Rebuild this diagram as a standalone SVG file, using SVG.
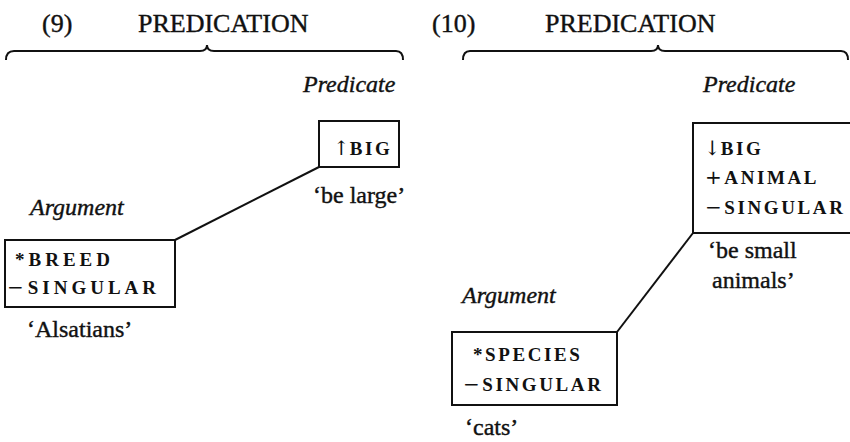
<svg xmlns="http://www.w3.org/2000/svg" width="850" height="442" viewBox="0 0 850 442">
<style>
text{font-family:"Liberation Serif","Times New Roman",serif;fill:#111;stroke:#111;stroke-width:0.4}
.title{font-size:26px}
.role{font-size:24px;font-style:italic}
.gloss{font-size:24px}
.sc{font-size:19px;font-weight:bold;letter-spacing:4px;stroke-width:0}
.sc2{font-size:19px;font-weight:bold;letter-spacing:2.6px;stroke-width:0}
.arr{font-family:"DejaVu Serif","DejaVu Sans",serif;font-size:20px;font-weight:normal;letter-spacing:0;fill:#111}
.sym{font-family:"DejaVu Sans",sans-serif;font-size:20px;font-weight:normal;fill:#111}
.box{fill:none;stroke:#111;stroke-width:2}
.brace{fill:none;stroke:#111;stroke-width:2}
.edge{stroke:#111;stroke-width:2}
</style>
<rect width="850" height="442" fill="#fff"/>
<g id="heading9">
<text class="title" x="42" y="32">(9)</text>
<text class="title" x="138" y="32">PREDICATION</text>
<path class="brace" d="M6,60 Q6,51 14,51 L200,51 Q207,51 207,45 Q207,51 214,51 L396,51 Q403,51 403,60"/>
</g>
<g id="heading10">
<text class="title" x="432" y="32">(10)</text>
<text class="title" x="545" y="32">PREDICATION</text>
<path class="brace" d="M463,60 Q463,51 470,51 L651,51 Q658,51 658,45 Q658,51 665,51 L841,51 Q848,51 848,60"/>
</g>
<g id="connectors">
<line class="edge" x1="175" y1="240" x2="319" y2="167"/>
<line class="edge" x1="617" y1="332" x2="693" y2="233"/>
</g>
<g id="pred9">
<text class="role" x="303" y="92">Predicate</text>
<rect class="box" x="319" y="121" width="80" height="46"/>
<text class="sc2" x="333" y="155"><tspan class="arr">↑</tspan>BIG</text>
<text class="gloss" x="313" y="203">‘be large’</text>
</g>
<g id="arg9">
<text class="role" x="30" y="215">Argument</text>
<rect class="box" x="5" y="240" width="170" height="67"/>
<text class="sc" x="15" y="266">*BREED</text>
<text class="sc" x="7" y="294"><tspan class="sym">−</tspan>SINGULAR</text>
<text class="gloss" x="27" y="337">‘Alsatians’</text>
</g>
<g id="pred10">
<text class="role" x="703" y="92">Predicate</text>
<rect class="box" x="693" y="123" width="160" height="110"/>
<text class="sc2" x="704" y="155"><tspan class="arr">↓</tspan>BIG</text>
<text class="sc2" x="705" y="184"><tspan class="sym">+</tspan>ANIMAL</text>
<text class="sc2" x="705" y="214"><tspan class="sym">−</tspan>SINGULAR</text>
<text class="gloss" x="708" y="258">‘be small</text>
<text class="gloss" x="712" y="288">animals’</text>
</g>
<g id="arg10">
<text class="role" x="462" y="303">Argument</text>
<rect class="box" x="452" y="332" width="165" height="73"/>
<text class="sc2" x="473" y="361">*SPECIES</text>
<text class="sc2" x="463" y="391"><tspan class="sym">−</tspan>SINGULAR</text>
<text class="gloss" x="465" y="435">‘cats’</text>
</g>
</svg>
